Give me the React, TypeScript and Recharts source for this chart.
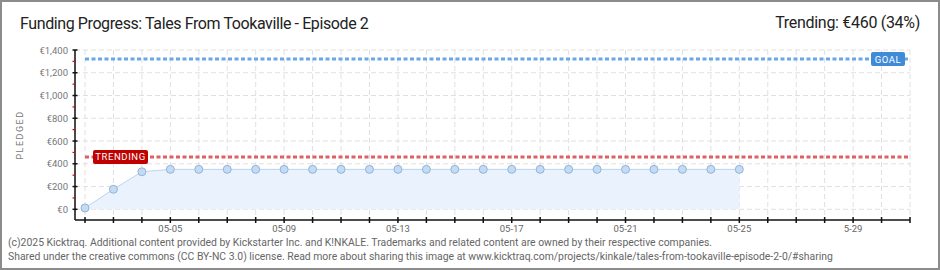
import React from "react";
import {
  ComposedChart,
  Area,
  XAxis,
  YAxis,
  CartesianGrid,
  ReferenceLine,
} from "recharts";

// ---- data ----
const days = [2, 3, 4, 5, 6, 7, 8, 9, 10, 11, 12, 13, 14, 15, 16, 17, 18, 19, 20, 21, 22, 23, 24, 25];
const pledged = [12, 176, 330, 351, 351, 351, 351, 351, 351, 351, 351, 351, 351, 351, 351, 351, 351, 351, 351, 351, 351, 351, 351, 351];
const tickDays = [2, 3, 4, 5, 6, 7, 8, 9, 10, 11, 12, 13, 14, 15, 16, 17, 18, 19, 20, 21, 22, 23, 24, 25, 26, 27, 28, 29, 30, 31];
const labelDays = [5, 9, 13, 17, 21, 25, 29];
const labelTexts = ["05-05", "05-09", "05-13", "05-17", "05-21", "05-25", "5-29"];
const yTicks = [0, 100, 200, 300, 400, 500, 600, 700, 800, 900, 1000, 1100, 1200, 1300, 1400];
const yMajor = [0, 200, 400, 600, 800, 1000, 1200, 1400];
const goal = 1320;
const trending = 460;
const title = "Funding Progress: Tales From Tookaville - Episode 2";
const trendingText = "Trending: €460 (34%)";
const footer1 = "(c)2025 Kicktraq. Additional content provided by Kickstarter Inc. and K!NKALE. Trademarks and related content are owned by their respective companies.";
const footer2 = "Shared under the creative commons (CC BY-NC 3.0) license. Read more about sharing this image at www.kicktraq.com/projects/kinkale/tales-from-tookaville-episode-2-0/#sharing";

const data = days.map((d, i) => ({ day: d, value: pledged[i] }));

const FONT = "Roboto, 'DejaVu Sans', sans-serif";

const XTick = (props: any) => {
  const { x, y, payload } = props;
  const idx = labelDays.indexOf(payload.value);
  return (
    <g>
      <line x1={x} x2={x} y1={y - 3} y2={y + 3} stroke="#111" strokeWidth={1.5} />
      {idx >= 0 && (
        <text x={x} y={y + 12} textAnchor="middle" fontSize={9.5} fill="#666" fontFamily={FONT}>
          {labelTexts[idx]}
        </text>
      )}
    </g>
  );
};

const YTick = (props: any) => {
  const { x, y, payload } = props;
  const v = payload.value as number;
  if (v % 200 !== 0) {
    return <line x1={x - 2.5} x2={x} y1={y} y2={y} stroke="#e00000" strokeWidth={1.2} />;
  }
  return (
    <g>
      <line x1={x - 2.5} x2={x + 2.5} y1={y} y2={y} stroke="#111" strokeWidth={1.5} />
      <text x={x - 7} y={y + 3.5} textAnchor="end" fontSize={9.5} fill="#777" fontFamily={FONT}>
        {"€" + v.toLocaleString("en-US")}
      </text>
    </g>
  );
};

const TrendLabel = (props: any) => {
  const vb = props.viewBox || {};
  const x = vb.x + 8;
  const y = vb.y;
  return (
    <g>
      <rect x={x} y={y - 7} width={55} height={14} rx={2} fill="#c00000" />
      <text x={x + 27.5} y={y + 3.5} textAnchor="middle" fontSize={9.5} fill="#fff" fontFamily={FONT} letterSpacing={0.6}>
        TRENDING
      </text>
    </g>
  );
};

const GoalLabel = (props: any) => {
  const vb = props.viewBox || {};
  const right = vb.x + vb.width - 5;
  const y = vb.y;
  return (
    <g>
      <rect x={right - 34} y={y - 7} width={34} height={14} rx={2} fill="#3f8bd8" />
      <text x={right - 17} y={y + 3.5} textAnchor="middle" fontSize={9.5} fill="#fff" fontFamily={FONT} letterSpacing={0.6}>
        GOAL
      </text>
    </g>
  );
};

export default function App() {
  return (
    <div
      style={{
        position: "absolute",
        left: 0,
        top: 0,
        width: 940,
        height: 270,
        boxSizing: "border-box",
        border: "2px solid #8c8c8c",
        background: "#fff",
        overflow: "hidden",
        fontFamily: FONT,
      }}
    >
      <div style={{ position: "absolute", left: -2, top: -2 }}>
        <ComposedChart
          width={940}
          height={270}
          data={data}
          margin={{ top: 50, right: 30, bottom: 30, left: 2 }}
        >
          <CartesianGrid
            stroke="#e0e0e0"
            strokeDasharray="5 3"
            horizontalValues={yMajor}
          />
          <XAxis
            dataKey="day"
            type="number"
            domain={[2, 31]}
            ticks={tickDays}
            interval={0}
            padding={{ left: 10, right: 0 }}
            height={20}
            tickSize={0}
            tickMargin={0}
            axisLine={{ stroke: "#111", strokeWidth: 1.5 }}
            tickLine={false}
            tick={<XTick />}
          />
          <YAxis
            type="number"
            domain={[-94, 1400]}
            ticks={yTicks}
            interval={0}
            width={73}
            tickSize={0}
            tickMargin={0}
            axisLine={{ stroke: "#111", strokeWidth: 1.5 }}
            tickLine={false}
            tick={<YTick />}
            allowDataOverflow
            label={{
              value: "PLEDGED",
              angle: -90,
              position: "insideLeft",
              offset: 18,
              style: { fontSize: 9, fill: "#777", letterSpacing: 1.5, fontFamily: FONT, textAnchor: "middle" },
            }}
          />
          <Area
            type="linear"
            dataKey="value"
            baseValue={0}
            stroke="#b9d3ef"
            strokeWidth={1}
            fill="#eaf3fd"
            fillOpacity={1}
            dot={{ r: 4, fill: "#c3dbf5", stroke: "#93b3d6", strokeWidth: 1 }}
            isAnimationActive={false}
          />
          <ReferenceLine
            segment={[{ x: 2, y: trending }, { x: 31, y: trending }]}
            stroke="#e06060"
            strokeWidth={3}
            strokeDasharray="4 2.5"
            ifOverflow="visible"
            label={<TrendLabel />}
          />
          <ReferenceLine
            segment={[{ x: 2, y: goal }, { x: 31, y: goal }]}
            stroke="#6aa7e6"
            strokeWidth={3}
            strokeDasharray="4 2.5"
            ifOverflow="visible"
            label={<GoalLabel />}
          />
        </ComposedChart>
      </div>
      <div style={{ position: "absolute", left: 18, top: 12, fontSize: 16, letterSpacing: -0.4, color: "#222", whiteSpace: "nowrap" }}>
        {title}
      </div>
      <div style={{ position: "absolute", right: 18, top: 11, fontSize: 16, letterSpacing: -0.3, color: "#222", whiteSpace: "nowrap" }}>
        {trendingText}
      </div>
      <div style={{ position: "absolute", left: 6, top: 234, fontSize: 10.4, color: "#666", whiteSpace: "nowrap", lineHeight: "13.5px" }}>
        {footer1}
        <br />
        {footer2}
      </div>
    </div>
  );
}
